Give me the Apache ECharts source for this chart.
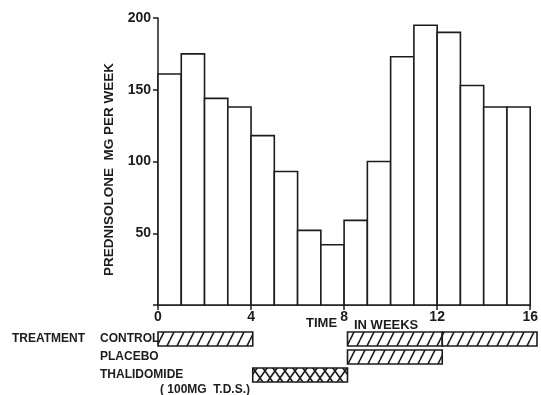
<!DOCTYPE html>
<html>
<head>
<meta charset="utf-8">
<script src="https://cdn.jsdelivr.net/npm/echarts@6/dist/echarts.min.js"></script>
<style>
  html, body { margin: 0; padding: 0; background: #fff; }
  #chart { width: 541px; height: 395px; }
</style>
</head>
<body>
<div id="chart"></div>
<script>
// weekly prednisolone dose, one bar per week (week start)
const weekStart = [0, 1, 2, 3, 4, 5, 6, 7, 8, 9, 10, 11, 12, 13, 14, 15]
const prednisolone = [161, 175, 144, 138, 118, 93, 52, 42, 59, 100, 173, 195, 190, 153, 138, 138]

// treatment periods
const treatmentRows = ['CONTROL', 'PLACEBO', 'THALIDOMIDE']
const treatmentRow = [0, 0, 0, 1, 2]
const treatmentStart = [0, 8, 12, 8, 4]
const treatmentEnd = [4, 12, 16, 12, 8]
const treatmentFill = ['hatch', 'hatch', 'hatch', 'hatch', 'cross']

const font = 'Liberation Sans'
const ink = '#1c1c1c'

function makePattern(kind) {
  const c = document.createElement('canvas')
  c.width = 10
  c.height = kind === 'cross' ? 14 : 20
  const g = c.getContext('2d')
  g.strokeStyle = ink
  g.lineWidth = 1.6
  g.beginPath()
  if (kind === 'cross') {
    g.moveTo(0, 0); g.lineTo(10, 14)
    g.moveTo(0, 14); g.lineTo(10, 0)
  } else {
    for (let dx = -10; dx <= 10; dx += 10) {
      g.moveTo(dx, 20); g.lineTo(dx + 10, 0)
    }
  }
  g.stroke()
  return { image: c, repeat: 'repeat' }
}
const patterns = { hatch: makePattern('hatch'), cross: makePattern('cross') }

const weekData = weekStart.map((w, i) => [w, prednisolone[i]])
const treatmentData = treatmentRow.map((r, i) => [r, treatmentStart[i], treatmentEnd[i], treatmentFill[i]])

const chart = echarts.init(document.getElementById('chart'))

chart.setOption({
  animation: false,
  grid: [
    { left: 158, right: 4, top: 18, bottom: 90 },
    { left: 158, right: 4, top: 330, height: 54 }
  ],
  xAxis: [
    {
      type: 'value', gridIndex: 0, min: 0, max: 16, interval: 4,
      axisLine: { lineStyle: { color: ink, width: 1.5 } },
      axisTick: { show: true, length: 5, lineStyle: { color: ink, width: 1.5 } },
      axisLabel: { color: ink, fontFamily: font, fontWeight: 'bold', fontSize: 14, margin: 5 },
      splitLine: { show: false }
    },
    { type: 'value', gridIndex: 1, min: 0, max: 16, show: false }
  ],
  yAxis: [
    {
      type: 'value', gridIndex: 0, min: 0, max: 200, interval: 50,
      name: 'PREDNISOLONE  MG PER WEEK',
      nameLocation: 'middle', nameGap: 38,
      nameTextStyle: { color: ink, fontFamily: font, fontWeight: 'bold', fontSize: 13.5, padding: [0, 16, 0, 0] },
      axisLine: { show: true, lineStyle: { color: ink, width: 1.5 } },
      axisTick: { show: true, length: 5, lineStyle: { color: ink, width: 1.5 } },
      axisLabel: {
        color: ink, fontFamily: font, fontWeight: 'bold', fontSize: 14, margin: 7,
        formatter: v => (v === 0 ? '' : String(v))
      },
      splitLine: { show: false }
    },
    {
      type: 'category', gridIndex: 1, data: treatmentRows, inverse: true,
      axisLine: { show: false }, axisTick: { show: false },
      axisLabel: { color: ink, fontFamily: font, fontWeight: 'bold', fontSize: 12, align: 'left', margin: 58 }
    }
  ],
  series: [
    {
      type: 'custom', xAxisIndex: 0, yAxisIndex: 0,
      data: weekData,
      encode: { x: 0, y: 1 },
      renderItem: function (params, api) {
        const p0 = api.coord([api.value(0), api.value(1)])
        const p1 = api.coord([api.value(0) + 1, 0])
        return {
          type: 'rect',
          shape: { x: p0[0], y: p0[1], width: p1[0] - p0[0], height: p1[1] - p0[1] },
          style: { fill: '#fff', stroke: ink, lineWidth: 1.6 }
        }
      }
    },
    {
      type: 'custom', xAxisIndex: 1, yAxisIndex: 1,
      data: treatmentData,
      encode: { x: [1, 2], y: 0 },
      renderItem: function (params, api) {
        const row = api.value(0)
        const p0 = api.coord([api.value(1), row])
        const p1 = api.coord([api.value(2), row])
        const h = 14
        return {
          type: 'rect',
          shape: { x: p0[0], y: p0[1] - h / 2, width: p1[0] - p0[0], height: h },
          style: { fill: patterns[treatmentData[params.dataIndex][3]], stroke: ink, lineWidth: 1.6 }
        }
      }
    }
  ],
  graphic: [
    { type: 'text', left: 12, top: 333, style: { text: 'TREATMENT', font: 'bold 12px "Liberation Sans"', fill: ink } },
    { type: 'text', left: 160, top: 384, style: { text: '( 100MG  T.D.S.)', font: 'bold 12px "Liberation Sans"', fill: ink } },
    { type: 'text', left: 306, top: 317, style: { text: 'TIME', font: 'bold 13px "Liberation Sans"', fill: ink } },
    { type: 'text', left: 354, top: 319, style: { text: 'IN WEEKS', font: 'bold 13px "Liberation Sans"', fill: ink } }
  ]
})
</script>
</body>
</html>
